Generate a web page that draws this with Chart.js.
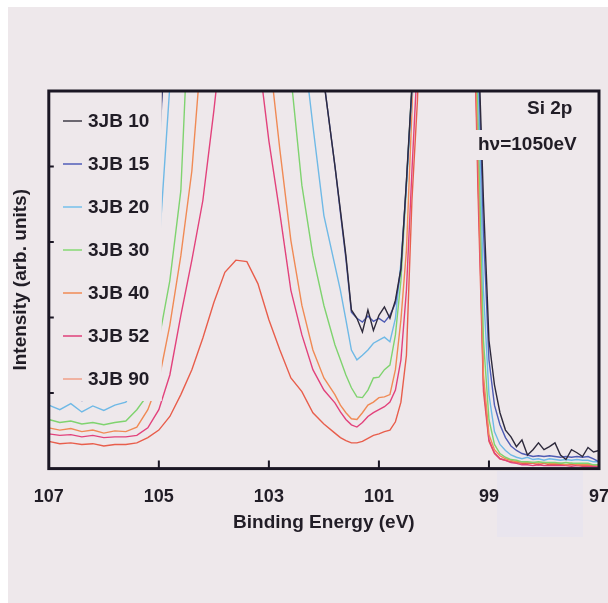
<!DOCTYPE html>
<html>
<head>
<meta charset="utf-8">
<script src="https://cdn.jsdelivr.net/npm/chart.js@4.4.1/dist/chart.umd.min.js"></script>
<style>
  html, body { margin: 0; padding: 0; background: #ffffff; }
  canvas { display: block; }
</style>
</head>
<body>
<canvas id="si2p" width="608" height="603"></canvas>
<script>
// Si 2p core level spectra, hv = 1050 eV (binding energy in eV, intensity in arb. units)

const energy = [107.0,106.8,106.6,106.4,106.2,106.0,105.8,105.6,105.4,105.2,105.0,104.8,104.6,104.4,104.2,104.0,103.8,103.6,103.4,103.2,103.0,102.8,102.6,102.4,102.2,102.0,
  101.8,101.7,101.6,101.5,101.4,101.3,101.2,101.1,101.0,100.9,100.8,100.7,100.6,100.5,100.4,100.3,100.2,
  100.0,99.6,99.3,
  99.2,99.1,99.0,98.9,98.8,98.7,98.6,98.5,98.4,98.3,98.2,98.1,98.0,97.9,97.8,97.7,97.6,97.5,97.4,97.3,97.2,97.1,97.0];

// values above 5 run off the top of the frame (clipped, as in the original)
const jb10 = [0.95,0.94,0.96,0.92,0.95,0.94,0.96,0.99,1.24,2.23,4.21,
  7,7,7,7,7,7,7,7,7,7,7,7,7,7,
  5.13,4.01,3.42,2.82,2.10,1.99,1.81,2.10,1.83,2.03,2.14,1.99,2.23,2.65,3.81,5.07,7,7,
  7,7,7,
  5.79,3.55,1.70,1.11,0.74,0.51,0.42,0.29,0.38,0.18,0.25,0.34,0.25,0.29,0.34,0.18,0.12,0.25,0.21,0.16,0.28,0.22,0.24];

const jb15 = [0.92,0.91,0.94,0.90,0.92,0.91,0.94,0.96,1.28,2.16,4.08,
  7,7,7,7,7,7,7,7,7,7,7,7,7,7,
  5.13,4.01,3.39,2.78,2.07,1.99,1.94,2.02,1.95,1.99,1.94,2.03,2.19,2.63,3.79,5.03,7,7,
  7,7,7,
  5.66,3.15,1.44,0.84,0.58,0.41,0.30,0.24,0.20,0.18,0.16,0.17,0.16,0.17,0.16,0.15,0.16,0.15,0.16,0.15,0.16,0.13,0.09];

const jb20 = [0.84,0.78,0.86,0.75,0.83,0.77,0.84,0.88,1.11,1.77,2.89,
  5.07,
  7,7,7,7,7,7,7,7,7,7,7,
  5.79,4.54,3.35,2.69,2.36,1.97,1.57,1.44,1.50,1.57,1.66,1.70,1.74,1.68,1.99,2.73,3.75,5.00,7,7,
  7,7,7,
  5.26,2.36,0.98,0.49,0.32,0.24,0.18,0.15,0.13,0.15,0.12,0.13,0.11,0.13,0.12,0.11,0.12,0.11,0.12,0.11,0.11,0.09,0.09];

const jb30 = [0.65,0.61,0.63,0.59,0.61,0.58,0.61,0.63,0.78,0.98,1.70,2.49,3.68,
  7,7,7,7,7,7,7,7,7,
  5.20,3.75,2.82,2.16,1.64,1.44,1.24,1.07,0.95,0.94,1.04,1.20,1.21,1.31,1.37,1.77,2.49,3.75,5.07,7,7,
  7,7,7,
  4.74,1.70,0.65,0.32,0.20,0.15,0.12,0.11,0.09,0.09,0.08,0.09,0.08,0.08,0.08,0.07,0.08,0.07,0.07,0.07,0.07,0.05,0.05];

const jb40 = [0.54,0.51,0.53,0.49,0.51,0.47,0.50,0.49,0.55,0.78,1.17,1.90,2.82,3.94,5.79,
  7,7,7,7,7,
  5.53,4.22,3.02,2.16,1.57,1.20,0.98,0.84,0.74,0.66,0.65,0.74,0.84,0.88,0.94,0.95,0.98,1.31,1.97,2.89,4.74,7,7,
  7,7,7,
  4.21,1.24,0.45,0.25,0.17,0.13,0.11,0.09,0.09,0.08,0.08,0.07,0.08,0.07,0.07,0.07,0.05,0.07,0.05,0.05,0.05,0.05,0.04];

const jb52 = [0.46,0.44,0.45,0.42,0.44,0.41,0.42,0.42,0.44,0.54,0.78,1.24,2.03,2.76,3.55,4.74,6.06,
  7,7,
  5.53,4.34,3.38,2.36,1.77,1.31,1.04,0.87,0.75,0.65,0.58,0.55,0.61,0.69,0.74,0.78,0.82,0.88,1.04,1.44,2.36,3.94,5.40,7,
  7,7,7,
  3.94,1.11,0.38,0.21,0.13,0.11,0.08,0.07,0.05,0.05,0.04,0.05,0.04,0.04,0.04,0.04,0.04,0.03,0.04,0.03,0.03,0.03,0.03];

const jb90 = [0.36,0.33,0.34,0.32,0.33,0.30,0.32,0.32,0.34,0.41,0.51,0.69,0.98,1.31,1.73,2.20,2.60,2.76,2.74,2.45,1.97,1.57,1.20,1.02,0.74,0.59,
  0.47,0.41,0.37,0.34,0.34,0.36,0.40,0.44,0.46,0.49,0.51,0.62,0.88,1.50,3.55,4.87,7,
  7,7,7,
  3.68,1.02,0.36,0.20,0.13,0.11,0.09,0.08,0.07,0.07,0.07,0.05,0.07,0.05,0.05,0.05,0.05,0.05,0.05,0.04,0.04,0.04,0.04];

const seriesNames = ["3JB 10", "3JB 15", "3JB 20", "3JB 30", "3JB 40", "3JB 52", "3JB 90"];
const seriesData = [jb10, jb15, jb20, jb30, jb40, jb52, jb90];
const lineColors = ["#2e2a3c", "#4f5cb4", "#6fb9e6", "#7fd36f", "#f08a55", "#e2427c", "#e85e4c"];
const swatchColors = ["#4a4652", "#5a66bc", "#7cc2ec", "#8cda7c", "#f0905e", "#e04a80", "#f0a48e"];

const xTickMarks = [105, 103, 101, 99];
const yTickMarks = [1, 2, 3, 4];

const PAPER = "#eee8eb";
const TXT = "#211d26";
const FRAME = "#1b1724";
const FONT = "'Liberation Sans', Arial, sans-serif";

// scanned-paper background and the blank patch under the axis
const paperPlugin = {
  id: "paper",
  beforeDraw(chart) {
    const ctx = chart.ctx;
    ctx.save();
    ctx.fillStyle = "#ffffff";
    ctx.fillRect(0, 0, chart.width, chart.height);
    ctx.fillStyle = PAPER;
    ctx.fillRect(8, 7, chart.width - 8, chart.height - 7);
    ctx.fillStyle = "#e9e5ee";
    ctx.fillRect(497, 471, 86, 66);
    ctx.restore();
  }
};

// legend panel, annotations, frame and inward ticks
const overlayPlugin = {
  id: "overlay",
  afterDatasetsDraw(chart) {
    const { ctx, chartArea: a } = chart;
    const xs = chart.scales.x;
    const ys = chart.scales.y;
    ctx.save();

    ctx.fillStyle = PAPER;
    ctx.fillRect(a.left + 1, a.top + 1, 112, 309);
    ctx.fillRect(473, 130, 122, 30);

    ctx.font = `bold 19px ${FONT}`;
    ctx.textBaseline = "middle";
    ctx.textAlign = "left";
    chart.data.datasets.forEach((ds, i) => {
      const y = 121 + i * 43;
      ctx.strokeStyle = swatchColors[i];
      ctx.lineWidth = 1.6;
      ctx.beginPath();
      ctx.moveTo(63, y);
      ctx.lineTo(82, y);
      ctx.stroke();
      ctx.fillStyle = TXT;
      ctx.fillText(ds.label, 88, y + 1);
    });
    ctx.fillText("Si 2p", 527, 109);
    ctx.fillText("h\u03bd=1050eV", 478, 145);

    ctx.strokeStyle = FRAME;
    ctx.lineWidth = 3;
    ctx.strokeRect(a.left, a.top, a.right - a.left, a.bottom - a.top);

    ctx.lineWidth = 2;
    ctx.beginPath();
    xTickMarks.forEach(v => {
      const px = xs.getPixelForValue(v);
      ctx.moveTo(px, a.bottom);
      ctx.lineTo(px, a.bottom - 8);
    });
    yTickMarks.forEach(v => {
      const py = ys.getPixelForValue(v);
      ctx.moveTo(a.left, py);
      ctx.lineTo(a.left + 5, py);
    });
    ctx.stroke();
    ctx.restore();
  }
};

const datasets = seriesData.map((values, i) => ({
  label: seriesNames[i],
  data: energy.map((e, k) => ({ x: e, y: values[k] })),
  borderColor: lineColors[i],
  backgroundColor: lineColors[i],
  borderWidth: 1.4,
  pointRadius: 0,
  tension: 0,
  fill: false
}));

new Chart(document.getElementById("si2p").getContext("2d"), {
  type: "line",
  data: { datasets },
  plugins: [paperPlugin, overlayPlugin],
  options: {
    responsive: false,
    animation: false,
    layout: { padding: { left: 8, right: 9, top: 91, bottom: 69 } },
    plugins: {
      legend: { display: false },
      tooltip: { enabled: false }
    },
    scales: {
      x: {
        type: "linear",
        reverse: true,
        min: 97,
        max: 107,
        // let the end labels hang over the frame instead of shrinking the plot
        afterFit(scale) {
          scale.paddingLeft = 0;
          scale.paddingRight = 0;
        },
        grid: { display: false, drawTicks: false },
        border: { display: false },
        ticks: {
          stepSize: 2,
          padding: 18,
          color: TXT,
          font: { family: FONT, size: 18, weight: "bold" }
        },
        title: {
          display: true,
          text: "Binding Energy (eV)",
          color: TXT,
          padding: { top: -15, bottom: 0 },
          font: { family: FONT, size: 19, weight: "bold" }
        }
      },
      y: {
        min: 0,
        max: 5,
        grid: { display: false, drawTicks: false },
        border: { display: false },
        ticks: { display: false },
        title: {
          display: true,
          text: "Intensity (arb. units)",
          color: TXT,
          padding: { top: 1, bottom: 17 },
          font: { family: FONT, size: 19, weight: "bold" }
        }
      }
    }
  }
});
</script>
</body>
</html>
